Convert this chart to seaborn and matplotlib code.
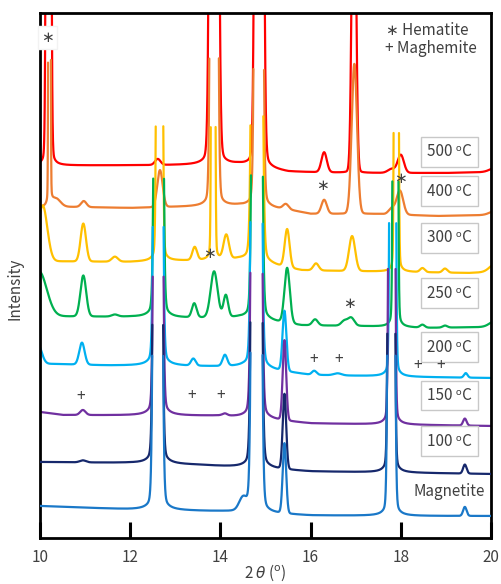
import numpy as np
import pandas as pd
import matplotlib
matplotlib.use("Agg")
import matplotlib.pyplot as plt
import seaborn as sns

sns.set_style("white")
plt.rcParams['font.family'] = ['Noto Sans CJK JP', 'DejaVu Sans']

# XRD patterns: peaks as (2theta, height, half width),
# backgrounds as (2theta, level) anchor points, clip = level where the trace is cut
labels = ["500 ᵒC", "400 ᵒC", "300 ᵒC", "250 ᵒC", "200 ᵒC", "150 ᵒC", "100 ᵒC", "Magnetite"]
colors = ["#ff0000", "#ed7d31", "#ffc000", "#00b050", "#00b0f0", "#7030a0", "#16286c", "#1a78c8"]

red_bg_x = [10.0, 10.6, 14.4, 15.5, 17.0, 19.0, 20.0]
red_bg_y = [372.5, 372.5, 373, 366, 365, 365, 366]
red_peaks = [(10.19, 3000, 0.035), (12.61, 6, 0.07), (13.86, 3000, 0.062), (14.86, 3000, 0.06),
             (16.30, 20, 0.07), (16.96, 400, 0.05), (17.80, 4, 0.1), (18.00, 18, 0.08), (20.1, 4, 0.15)]

orange_bg_x = [10.0, 10.8, 12.0, 13.0, 14.4, 15.5, 16.0, 17.5, 18.8, 20.0]
orange_bg_y = [331, 331, 330, 331, 332, 328, 324, 324, 322, 323]
orange_peaks = [(10.21, 3000, 0.015), (10.35, 8, 0.12), (10.97, 6, 0.07), (12.66, 37, 0.07),
                (13.86, 3000, 0.05), (14.85, 3000, 0.055), (15.45, 5, 0.07), (16.30, 14, 0.07),
                (16.97, 150, 0.07), (17.80, 6, 0.08), (17.98, 24, 0.085), (20.1, 4, 0.15)]

yellow_bg_x = [10.0, 10.5, 12.0, 13.0, 14.4, 15.8, 17.3, 19.5, 20.0]
yellow_bg_y = [276.5, 276.5, 276, 277, 278, 267.5, 266.5, 265, 266]
yellow_peaks = [(10.06, 56, 0.12), (10.96, 38, 0.07), (11.66, 5, 0.08), (12.65, 3000, 0.039),
                (13.43, 13, 0.06), (13.84, 3000, 0.025), (14.13, 24, 0.07), (14.81, 3000, 0.067),
                (15.48, 38, 0.063), (16.12, 7, 0.07), (16.92, 35, 0.08), (17.90, 3000, 0.028),
                (18.48, 4, 0.06), (18.98, 4, 0.06), (20.1, 8, 0.15)]

green_bg_x = [10.0, 10.4, 12.0, 13.0, 14.4, 15.8, 17.0, 18.5, 20.0]
green_bg_y = [221.5, 221.5, 221, 220, 220, 212.5, 212, 210, 211]
green_peaks = [(9.98, 45, 0.2), (10.96, 41, 0.075), (11.66, 2, 0.08), (12.63, 3000, 0.056),
               (13.42, 14, 0.06), (13.86, 46, 0.09), (14.12, 22, 0.06), (14.81, 3000, 0.062),
               (15.48, 55, 0.07), (16.10, 6, 0.07), (16.75, 5, 0.08), (16.90, 8, 0.08),
               (17.88, 3000, 0.032), (18.48, 3, 0.06), (18.98, 2, 0.06), (20.1, 6, 0.15)]

lblue_bg_x = [10.0, 10.3, 11.5, 13.0, 14.5, 16.0, 18.2, 20.0]
lblue_bg_y = [174, 174, 172.5, 172, 171, 163, 161, 160]
lblue_peaks = [(9.95, 20, 0.1), (10.93, 22, 0.07), (12.62, 3000, 0.056), (13.40, 7, 0.06),
               (14.10, 11, 0.06), (14.80, 3000, 0.064), (15.42, 60, 0.05), (16.08, 4, 0.06),
               (16.60, 2, 0.1), (17.82, 3000, 0.038), (19.44, 4.5, 0.045)]

purple_bg_x = [10.0, 10.5, 14.0, 16.0, 20.0]
purple_bg_y = [126, 123, 122, 114.5, 112]
purple_peaks = [(10.95, 5, 0.07), (12.62, 3000, 0.056), (14.10, 2, 0.06), (14.80, 3000, 0.064),
                (15.42, 80, 0.045), (17.80, 3000, 0.04), (19.42, 7, 0.045)]

navy_bg_x = [10.0, 12.0, 13.5, 16.0, 20.0]
navy_bg_y = [76, 75, 73, 66.5, 64]
navy_peaks = [(10.95, 2, 0.08), (12.61, 3000, 0.056), (14.80, 3000, 0.064), (15.42, 75, 0.045),
              (17.79, 3000, 0.042), (19.42, 9, 0.045)]

mag_bg_x = [10.0, 12.0, 14.0, 16.0, 18.0, 20.0]
mag_bg_y = [32, 28.5, 26.5, 22.5, 22, 22]
mag_peaks = [(12.61, 3000, 0.058), (14.50, 12, 0.1), (14.80, 3000, 0.064), (15.42, 70, 0.045),
             (17.79, 3000, 0.045), (19.42, 9, 0.045)]

bg_x = [red_bg_x, orange_bg_x, yellow_bg_x, green_bg_x, lblue_bg_x, purple_bg_x, navy_bg_x, mag_bg_x]
bg_y = [red_bg_y, orange_bg_y, yellow_bg_y, green_bg_y, lblue_bg_y, purple_bg_y, navy_bg_y, mag_bg_y]
peaks = [red_peaks, orange_peaks, yellow_peaks, green_peaks, lblue_peaks, purple_peaks, navy_peaks, mag_peaks]
clips = [None, 481, 422, 365, 318, 270, 221, 186]

# label boxes and annotation marks (2theta, intensity)
label_x = 19.07
label_y = [386, 347, 300, 245, 191, 142.5, 97, 46]
hem_marks = [(16.27, 353), (17.99, 359.5), (13.75, 284.3), (16.86, 234.7)]
mag_marks = [(16.06, 178.7), (16.63, 178.7), (18.37, 172.3), (18.88, 172.3),
             (10.90, 141.5), (13.37, 142), (14.01, 142)]

tt = np.arange(10.0, 20.0001, 0.002)


def profile(plist):
    out = np.zeros_like(tt)
    eta = 0.035
    for c, h, w in plist:
        d = (tt - c) / w
        out += h * (eta / (1 + d ** 2) + (1 - eta) * np.exp(-np.log(2) * d ** 2))
    return out


fig = plt.figure(figsize=(5.01, 5.84), dpi=100)
ax = fig.add_axes([40 / 501, 1 - 538 / 584, 451 / 501, 525 / 584])

for i in range(len(labels)):
    y = np.interp(tt, bg_x[i], bg_y[i]) + profile(peaks[i])
    if clips[i] is not None:
        y[y > clips[i]] = np.nan
    seg = np.cumsum(np.isnan(y))
    df = pd.DataFrame({"x": tt, "y": y, "seg": seg}).dropna()
    sns.lineplot(data=df, x="x", y="y", units="seg", estimator=None, sort=False,
                 color=colors[i], lw=1.6, ax=ax, zorder=2 + i * 0.1)

ax.set_xlim(10, 20)
ax.set_ylim(0, 525)
ax.set_xticks(range(10, 21, 2))
ax.set_yticks([])
ax.tick_params(axis='x', direction='in', length=11.5, width=2.2, color='black',
               labelsize=11, labelcolor='#404040', pad=8, bottom=True)
for s in ax.spines.values():
    s.set_linewidth(2)
    s.set_color('black')

ax.set_xlabel("2 $\\theta$ ($^{\\mathrm{o}}$)", fontsize=11, color='#404040')
ax.xaxis.set_label_coords(0.5, -0.047)
ax.set_ylabel("Intensity", fontsize=11, color='#404040')
ax.yaxis.set_label_coords(-0.036, 0.474)

txt = dict(fontsize=11, color='#404040', ha='center', va='center', zorder=5)
for i, lab in enumerate(labels):
    if lab == "Magnetite":
        ax.text(label_x, label_y[i], lab, **txt)
    else:
        ax.text(label_x, label_y[i], lab, bbox=dict(boxstyle='square,pad=0.4', fc='white',
                                                   ec='#c8c8c8', lw=1), **txt)

for px, py in hem_marks:
    ax.text(px, py, "∗", **txt)
for px, py in mag_marks:
    ax.text(px, py, "+", **txt)

ax.text(10.16, 500.7, "∗", bbox=dict(boxstyle='square,pad=0.2', fc='white', ec='#f2f2f2', lw=1), **txt)

ax.text(17.68, 507.3, "∗ Hematite", fontsize=11, color='#404040', ha='left', va='center', zorder=5)
ax.text(17.66, 489.7, "+ Maghemite", fontsize=11, color='#404040', ha='left', va='center', zorder=5)

fig.savefig("out.png", dpi=100)
